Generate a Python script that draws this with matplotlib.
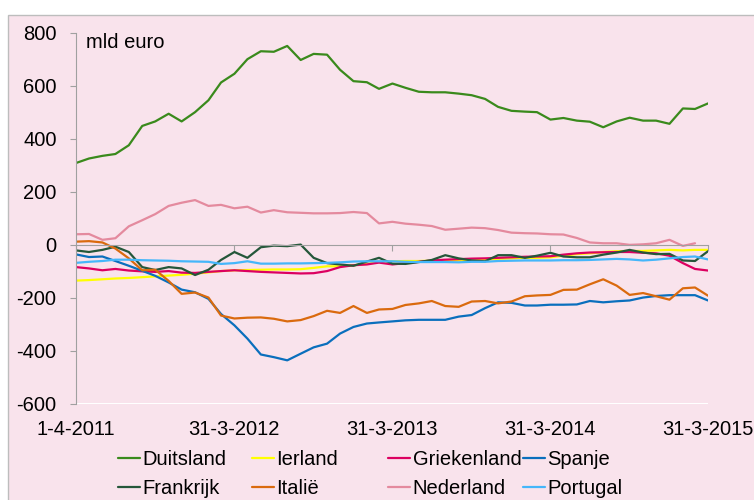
import matplotlib
matplotlib.use('Agg')
import matplotlib.pyplot as plt
import matplotlib.dates as mdates
import pandas as pd
from matplotlib.patches import Rectangle

plt.rcParams['font.family'] = ['Liberation Sans', 'DejaVu Sans']

# monthly observations, April 2011 .. March 2015
dates = list(pd.date_range('2011-04-01', periods=48, freq='MS')) + [pd.Timestamp('2015-03-31')]

duitsland = [308, 325, 335, 342, 375, 448, 465, 494, 465, 500, 545, 612,
             645, 700, 730, 728, 750, 697, 720, 717, 660, 617, 613, 588,
             608, 592, 577, 575, 575, 570, 564, 550, 520, 505, 502, 500,
             472, 478, 468, 464, 443, 465, 479, 468, 468, 456, 514, 512, 533]
ierland = [-136, -134, -131, -128, -126, -123, -120, -117, -114, -110, -105, -100,
           -97, -96, -95, -94, -94, -93, -88, -82, -82, -78, -73, -66,
           -63, -62, -62, -61, -60, -60, -60, -57, -54, -52, -50, -50,
           -48, -42, -36, -33, -28, -25, -24, -24, -22, -20, -22, -20, -20]
griekenland = [-85, -90, -97, -92, -98, -101, -103, -100, -106, -107, -103, -100,
               -97, -100, -103, -105, -107, -109, -108, -100, -85, -78, -75, -68,
               -75, -70, -65, -60, -57, -55, -53, -52, -50, -48, -46, -45,
               -44, -38, -33, -30, -29, -28, -28, -31, -33, -42, -70, -92, -98]
spanje = [-37, -47, -45, -62, -80, -99, -118, -143, -170, -180, -205, -262,
          -305, -355, -415, -425, -437, -412, -388, -374, -336, -311, -298, -294,
          -290, -286, -284, -284, -284, -272, -266, -240, -218, -220, -230, -230,
          -227, -227, -226, -213, -218, -214, -211, -200, -194, -191, -191, -191, -211]
frankrijk = [-22, -28, -20, -8, -28, -85, -96, -85, -90, -115, -95, -58,
             -28, -50, -10, -4, -6, 0, -50, -70, -75, -80, -64, -50,
             -72, -73, -66, -58, -40, -52, -60, -63, -40, -40, -50, -42,
             -31, -45, -48, -48, -38, -30, -20, -30, -36, -35, -60, -62, -25]
italie = [11, 13, 8, -15, -52, -97, -95, -137, -186, -181, -200, -268,
          -279, -276, -275, -280, -290, -285, -270, -250, -258, -232, -258, -245,
          -243, -228, -222, -213, -232, -235, -215, -213, -222, -215, -195, -192,
          -190, -171, -170, -150, -131, -155, -190, -183, -195, -208, -165, -162, -193]
nederland = [39, 40, 18, 24, 69, 92, 115, 146, 158, 168, 146, 150,
             137, 143, 121, 130, 122, 120, 118, 118, 119, 123, 119, 80,
             86, 79, 75, 70, 56, 60, 64, 62, 55, 45, 43, 42,
             39, 38, 25, 8, 5, 5, -1, 1, 5, 18, -5, 5, float('nan')]
portugal = [-69, -65, -62, -57, -57, -59, -60, -61, -63, -64, -65, -73,
            -70, -63, -72, -72, -71, -71, -70, -69, -67, -64, -63, -63,
            -63, -65, -66, -66, -66, -67, -65, -65, -62, -61, -60, -60,
            -60, -59, -59, -58, -56, -54, -56, -60, -57, -52, -47, -45, -56]

series_names = ['Duitsland', 'Ierland', 'Griekenland', 'Spanje',
                'Frankrijk', 'Italië', 'Nederland', 'Portugal']
series_values = [duitsland, ierland, griekenland, spanje,
                 frankrijk, italie, nederland, portugal]
colors = ['#3A8A1C', '#FFFF00', '#DC0060', '#0A6FBD',
          '#25573A', '#DA6A0E', '#E48A9E', '#45B6FA']

tick_dates = ['2011-04-01', '2012-03-31', '2013-03-31', '2014-03-31', '2015-03-31']
tick_labels = ['1-4-2011', '31-3-2012', '31-3-2013', '31-3-2014', '31-3-2015']
y_ticks = [-600, -400, -200, 0, 200, 400, 600, 800]

W, H = 754, 500
fig = plt.figure(figsize=(W / 100, H / 100), dpi=100)
fig.patch.set_facecolor('white')
pink = '#F9E3EC'
fig.patches.append(Rectangle((8 / W, -0.1), 1.2, 1 - 15 / H + 0.1, transform=fig.transFigure,
                             facecolor=pink, edgecolor='#BDBDBD', lw=1, zorder=-10))

ax = fig.add_axes([76 / W, 1 - 403.5 / H, 632 / W, (403.5 - 32.7) / H])
ax.set_facecolor('none')

lines = {}
for name, vals, c in zip(series_names, series_values, colors):
    ln, = ax.plot(dates, vals, color=c, lw=1.6, solid_joinstyle='round', solid_capstyle='round', label=name)
    lines[name] = ln

tnum = [mdates.date2num(pd.Timestamp(d)) for d in tick_dates]
ax.set_xlim(tnum[0], tnum[-1])
ax.set_ylim(-600, 800)
ax.set_yticks(y_ticks)
ax.set_yticklabels([str(v) for v in y_ticks])

axis_col = '#A0A0A0'
for s in ['top', 'right']:
    ax.spines[s].set_visible(False)
ax.spines['left'].set_color(axis_col)
ax.spines['bottom'].set_color(axis_col)
ax.spines['bottom'].set_position(('data', 0))
ax.set_xticks(tnum)
ax.tick_params(axis='x', direction='out', length=4, color=axis_col, labelbottom=False)
ax.tick_params(axis='y', direction='out', length=4, color=axis_col, labelsize=14.5, pad=10)

sec = ax.secondary_xaxis('bottom')
sec.set_xticks(tnum)
sec.set_xticklabels(tick_labels)
sec.spines['bottom'].set_visible(False)
sec.tick_params(length=0, labelsize=14.5, pad=12)

fig.text(86 / W, 1 - 43 / H, 'mld euro', fontsize=14.5, va='center', ha='left')

cols = [('Duitsland', 'Frankrijk'), ('Ierland', 'Italië'),
        ('Griekenland', 'Nederland'), ('Spanje', 'Portugal')]
col_x = [118, 252, 388, 523]
for names, x in zip(cols, col_x):
    leg = fig.legend([lines[n] for n in names], list(names), loc='upper left',
                     bbox_to_anchor=(x / W, 1 - 450 / H), frameon=False, borderpad=0,
                     borderaxespad=0, handlelength=1.1, handletextpad=0.12,
                     labelspacing=0.5, fontsize=14.5)

fig.savefig('out.png', dpi=100)
